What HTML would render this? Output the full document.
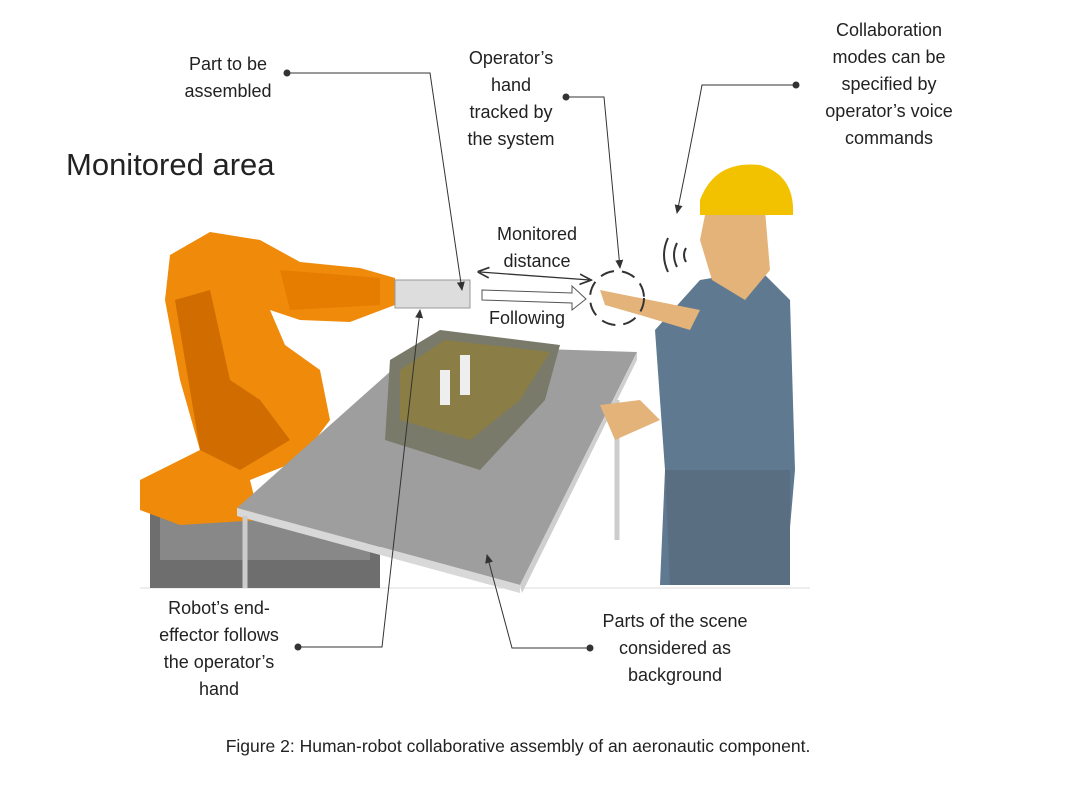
<!DOCTYPE html>
<html><head><style>
body{margin:0;background:#fff;}
svg{display:block;}
text{font-family:"Liberation Sans",sans-serif;fill:#222;}
</style></head><body>
<svg width="1073" height="792" viewBox="0 0 1073 792" xmlns="http://www.w3.org/2000/svg">
<defs>
<marker id="a" markerWidth="10" markerHeight="10" refX="8" refY="5" orient="auto"><path d="M0,1 L9,5 L0,9 z" fill="#333"/></marker>
<marker id="b" markerWidth="10" markerHeight="10" refX="2" refY="5" orient="auto"><path d="M9,1 L0,5 L9,9" fill="none" stroke="#333" stroke-width="1.3"/></marker>
<marker id="c" markerWidth="10" markerHeight="10" refX="8" refY="5" orient="auto"><path d="M0,1 L9,5 L0,9" fill="none" stroke="#333" stroke-width="1.3"/></marker>
</defs>
<line x1="140" y1="588" x2="810" y2="588" stroke="#ddd"/>
<path d="M150,500 L380,505 L380,588 L150,588 z" fill="#6e6e6e"/>
<path d="M160,515 L370,520 L370,560 L160,560 z" fill="#888"/>
<path d="M140,480 L200,450 L180,380 L165,300 L170,255 L210,232 L260,240 L300,262 L360,268 L395,278 L395,305 L350,322 L300,320 L270,310 L285,345 L320,370 L330,420 L300,460 L250,480 L260,520 L180,525 L140,510 z" fill="#f08a0a"/>
<path d="M175,300 L210,290 L230,380 L260,400 L290,440 L240,470 L200,450 z" fill="#d06c00"/>
<path d="M280,270 L380,278 L380,305 L290,310 z" fill="#e67c00"/>
<rect x="395" y="280" width="75" height="28" fill="#ddd" stroke="#999"/>
<path d="M237,508 L420,345 L637,352 L520,585 z" fill="#9e9e9e"/>
<path d="M237,508 L520,585 L520,593 L237,516 z" fill="#d8d8d8"/>
<path d="M520,585 L637,352 L637,360 L522,593 z" fill="#cfcfcf"/>
<line x1="245" y1="516" x2="245" y2="588" stroke="#ccc" stroke-width="5"/>
<line x1="617" y1="400" x2="617" y2="540" stroke="#ccc" stroke-width="5"/>
<path d="M390,360 L440,330 L560,345 L545,400 L480,470 L385,440 z" fill="#7a7a6a"/>
<path d="M400,370 L445,340 L550,352 L520,400 L470,440 L400,420 z" fill="#8a7d45"/>
<rect x="460" y="355" width="10" height="40" fill="#eee"/>
<rect x="440" y="370" width="10" height="35" fill="#eee"/>
<path d="M660,585 L665,470 L655,330 L700,280 L760,270 L790,300 L795,470 L785,585 z" fill="#5f7990"/>
<path d="M665,470 L790,470 L790,585 L670,585 z" fill="#5a6e82"/>
<path d="M705,215 L765,210 L770,270 L745,300 L712,280 L700,240 z" fill="#e4b37a"/>
<path d="M700,200 Q715,160 760,165 Q795,175 793,215 L700,215 z" fill="#f2c200"/>
<path d="M600,405 L640,400 L660,420 L615,440 z" fill="#e4b37a"/>
<path d="M600,290 L650,300 L700,310 L690,330 L640,315 L605,305 z" fill="#e4b37a"/>
<path d="M668,238 Q660,255 668,272" fill="none" stroke="#333" stroke-width="2"/>
<path d="M677,243 Q671,255 677,267" fill="none" stroke="#333" stroke-width="2"/>
<path d="M686,248 Q682,255 686,262" fill="none" stroke="#333" stroke-width="2"/>
<circle cx="617" cy="298" r="27" fill="none" stroke="#333" stroke-width="2" stroke-dasharray="14,8"/>
<line x1="480" y1="272" x2="590" y2="280" stroke="#333" stroke-width="1.3" marker-start="url(#b)" marker-end="url(#c)"/>
<path d="M482,290 L572,293 L572,286 L586,299 L572,310 L572,303 L482,300 z" fill="#fff" stroke="#555"/>
<circle cx="287" cy="73" r="3.5" fill="#333"/>
<path d="M287,73 L430,73 L462,290" fill="none" stroke="#333" marker-end="url(#a)"/>
<circle cx="566" cy="97" r="3.5" fill="#333"/>
<path d="M566,97 L604,97 L620,268" fill="none" stroke="#333" marker-end="url(#a)"/>
<circle cx="796" cy="85" r="3.5" fill="#333"/>
<path d="M796,85 L702,85 Q690,150 677,213" fill="none" stroke="#333" marker-end="url(#a)"/>
<circle cx="298" cy="647" r="3.5" fill="#333"/>
<path d="M298,647 L382,647 L420,310" fill="none" stroke="#333" marker-end="url(#a)"/>
<circle cx="590" cy="648" r="3.5" fill="#333"/>
<path d="M590,648 L512,648 L487,555" fill="none" stroke="#333" marker-end="url(#a)"/>
<g font-size="18" text-anchor="middle">
<text x="228" y="70">Part to be</text><text x="228" y="97">assembled</text>
<text x="511" y="64">Operator’s</text><text x="511" y="91">hand</text><text x="511" y="118">tracked by</text><text x="511" y="145">the system</text>
<text x="889" y="36">Collaboration</text><text x="889" y="63">modes can be</text><text x="889" y="90">specified by</text><text x="889" y="117">operator’s voice</text><text x="889" y="144">commands</text>
<text x="537" y="240">Monitored</text><text x="537" y="267">distance</text>
<text x="527" y="324">Following</text>
<text x="219" y="614">Robot’s end-</text><text x="219" y="641">effector follows</text><text x="219" y="668">the operator’s</text><text x="219" y="695">hand</text>
<text x="675" y="627">Parts of the scene</text><text x="675" y="654">considered as</text><text x="675" y="681">background</text>
</g>
<text x="66" y="175" font-size="31">Monitored area</text>
<text x="518" y="752" font-size="17.5" text-anchor="middle">Figure 2: Human-robot collaborative assembly of an aeronautic component.</text>
</svg>
</body></html>
